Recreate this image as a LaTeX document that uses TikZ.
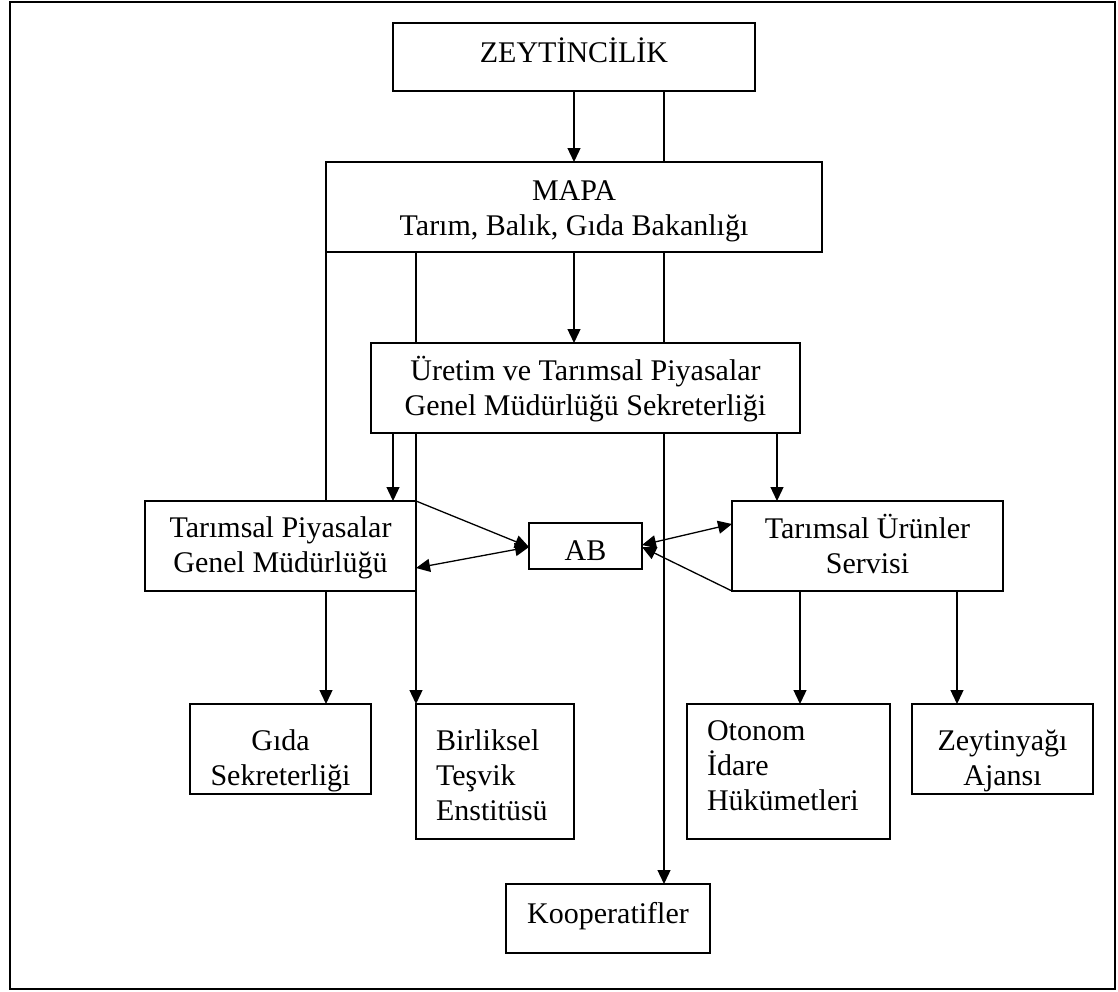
\documentclass[tikz,border=0pt]{standalone}
\usepackage{fontspec}
\setmainfont{Liberation Serif}
\usetikzlibrary{arrows.meta,calc}
% #1 = top to first baseline, #2 = remaining height, #3 = lines
\newcommand\ctext[3]{\raisebox{0pt}[#1pt][#2pt]{\begin{tabular}[t]{@{}c@{}}#3\end{tabular}}}
% #1, #2 as above, #3 = box width, #4 = lines (left aligned)
\newcommand\ltext[4]{\raisebox{0pt}[#1pt][#2pt]{\makebox[#3pt][l]{\hspace*{20pt}\begin{tabular}[t]{@{}l@{}}#4\end{tabular}}}}
\tikzset{
  box/.style={draw, line width=1.3pt, inner sep=0pt, outer sep=0pt, font=\fontsize{30}{35}\selectfont},
  conn/.style={line width=1.3pt},
  arr/.style={conn, -{Triangle[length=14pt,width=13pt]}},
  dbl/.style={conn, {Triangle[length=14pt,width=13pt]}-{Triangle[length=14pt,width=13pt]}}
}
\begin{document}
\begin{tikzpicture}[x=1pt,y=-1pt]
\useasboundingbox (0,0) rectangle (1118,991);
\draw[line width=2.5pt] (10,2) rectangle (1115,989);

\node[box, minimum width=362pt, minimum height=68pt] (zey) at (574,57) {\ctext{39}{29}{ZEYTİNCİLİK}};
\node[box, minimum width=496pt, minimum height=90pt] (mapa) at (574,207) {\ctext{38}{52}{MAPA\\Tarım, Balık, Gıda Bakanlığı}};
\node[box, minimum width=429pt, minimum height=90pt] (uret) at (585.5,388) {\ctext{37}{53}{Üretim ve Tarımsal Piyasalar\\Genel Müdürlüğü Sekreterliği}};
\node[box, minimum width=271pt, minimum height=90pt] (tp) at (280.5,546) {\ctext{36}{54}{Tarımsal Piyasalar\\Genel Müdürlüğü}};
\node[box, minimum width=113pt, minimum height=46pt] (ab) at (585.5,546) {\ctext{37}{9}{AB}};
\node[box, minimum width=271pt, minimum height=90pt] (tu) at (867.5,546) {\ctext{37}{53}{Tarımsal Ürünler\\Servisi}};
\node[box, minimum width=181pt, minimum height=90pt] (gida) at (280.5,749) {\ctext{46}{44}{Gıda\\Sekreterliği}};
\node[box, minimum width=158pt, minimum height=135pt] (bir) at (495,771.5) {\ltext{46}{89}{158}{Birliksel\\Teşvik\\Enstitüsü}};
\node[box, minimum width=203pt, minimum height=135pt] (oto) at (788.5,771.5) {\ltext{36}{99}{203}{Otonom\\İdare\\Hükümetleri}};
\node[box, minimum width=181pt, minimum height=90pt] (zyag) at (1002.5,749) {\ctext{46}{44}{Zeytinyağı\\Ajansı}};
\node[box, minimum width=204pt, minimum height=69pt] (koop) at (608,918.5) {\ctext{39}{30}{Kooperatifler}};

\coordinate (c326) at (326,0);
\coordinate (c393) at (393,0);
\coordinate (c416) at (416,0);
\coordinate (c664) at (664,0);
\coordinate (c777) at (777,0);
\coordinate (c800) at (800,0);
\coordinate (c957) at (957,0);

% ZEYTINCILIK -> MAPA
\draw[arr] (zey.south) -- (mapa.north);
\draw[conn] (zey.south -| c664) -- (mapa.north -| c664);

% MAPA -> lower
\draw[conn] (mapa.south west) -- (tp.north -| c326);
\draw[conn] (mapa.south -| c416) -- (uret.north -| c416);
\draw[arr] (mapa.south) -- (uret.north -| mapa.south);
\draw[conn] (mapa.south -| c664) -- (uret.north -| c664);

% Uretim -> lower
\draw[arr] (uret.south -| c393) -- (tp.north -| c393);
\draw[conn] (uret.south -| c416) -- (tp.north east);
\draw[arr] (uret.south -| c664) -- (koop.north -| c664);
\draw[arr] (uret.south -| c777) -- (tu.north -| c777);

% AB links
\draw[arr] (tp.north east) -- ($(ab.west)+(0,1)$);
\draw[dbl] ($(ab.west)+(0,1)$) -- ($(tp.east)+(0,22)$);
\draw[dbl] ($(ab.east)+(0,-1)$) -- ($(tu.west)+(0,-22)$);
\draw[arr] (tu.south west) -- ($(ab.east)+(0,1)$);

% TP -> bottom
\draw[arr] (tp.south -| c326) -- (gida.north -| c326);
\draw[arr] (tp.south east) -- (bir.north west);

% TU -> bottom
\draw[arr] (tu.south -| c800) -- (oto.north -| c800);
\draw[arr] (tu.south -| c957) -- (zyag.north -| c957);
\end{tikzpicture}
\end{document}
